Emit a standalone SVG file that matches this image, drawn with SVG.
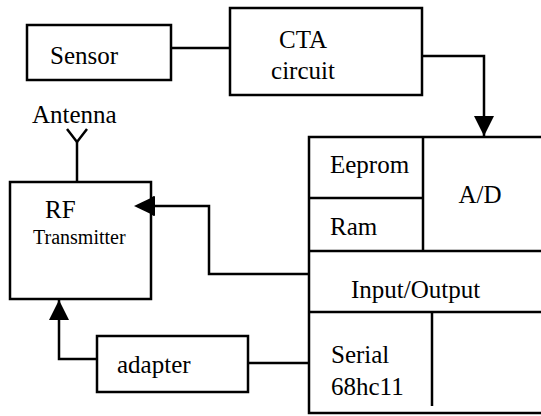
<svg xmlns="http://www.w3.org/2000/svg" width="541" height="416" viewBox="0 0 541 416">
<defs>
<style>
.b{fill:#fff;stroke:#000;stroke-width:2.5}
.l{fill:none;stroke:#000;stroke-width:2.5}
.t{font-family:'Liberation Serif','Times New Roman',serif;font-size:25px;fill:#000}
.s{font-size:20px}
</style>
<marker id="ah" viewBox="0 0 20 20" refX="20" refY="10" markerWidth="20" markerHeight="20" markerUnits="userSpaceOnUse" orient="auto">
<path d="M0,0 L20,10 L0,20 Z" fill="#000"/>
</marker>
</defs>
<g id="connectors">
<line class="l" x1="171" y1="48" x2="230" y2="48"/>
<polyline class="l" points="422,56 484,56 484,136" marker-end="url(#ah)"/>
<polyline class="l" points="309,274 209,274 209,206 134,206" marker-end="url(#ah)"/>
<polyline class="l" points="97,359 59,359 59,300" marker-end="url(#ah)"/>
<line class="l" x1="248" y1="363" x2="309" y2="363"/>
<polyline class="l" points="67,129 77,142 87,129"/>
<line class="l" x1="77" y1="142" x2="77" y2="182"/>
</g>
<g id="sensor">
<rect class="b" x="27" y="25" width="144" height="55"/>
<text class="t" x="50" y="64">Sensor</text>
</g>
<g id="cta">
<rect class="b" x="230" y="8" width="192" height="87"/>
<text class="t" x="303" y="48" text-anchor="middle">CTA</text>
<text class="t" x="303" y="79" text-anchor="middle">circuit</text>
</g>
<g id="antenna">
<text class="t" x="32" y="123">Antenna</text>
</g>
<g id="rf">
<rect class="b" x="10" y="182" width="141" height="117"/>
<text class="t" x="45" y="218">RF</text>
<text class="t s" x="33" y="244">Transmitter</text>
</g>
<polygon points="134,206 155,196 155,216" fill="#000"/>
<g id="adapter">
<rect class="b" x="97" y="336" width="151" height="56"/>
<text class="t" x="117" y="373">adapter</text>
</g>
<g id="mcu">
<rect class="b" x="309" y="137" width="240" height="276"/>
<line class="l" x1="423" y1="137" x2="423" y2="251"/>
<line class="l" x1="309" y1="198" x2="423" y2="198"/>
<line class="l" x1="309" y1="251" x2="549" y2="251"/>
<line class="l" x1="309" y1="312" x2="549" y2="312"/>
<line class="l" x1="432" y1="312" x2="432" y2="406"/>
<text class="t" x="330" y="173">Eeprom</text>
<text class="t" x="480" y="203" text-anchor="middle">A/D</text>
<text class="t" x="330" y="235">Ram</text>
<text class="t" x="351" y="298">Input/Output</text>
<text class="t" x="331" y="363">Serial</text>
<text class="t" x="331" y="395">68hc11</text>
</g>
</svg>
